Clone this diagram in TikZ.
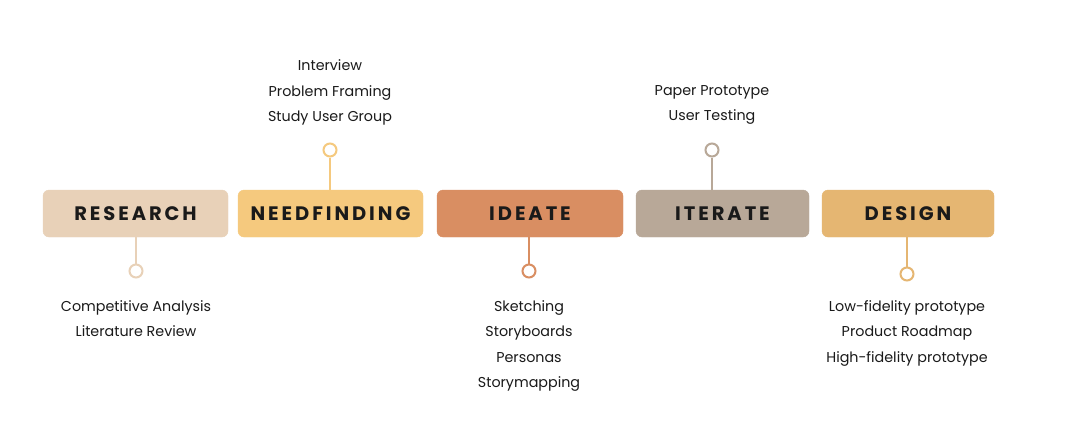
\documentclass[tikz,border=0pt]{standalone}
\usepackage{fontspec}
\setmainfont{Poppins}
\newfontfamily\titlefont{Poppins}[LetterSpace=15]
\definecolor{cResearch}{HTML}{E8D1B8}
\definecolor{cNeed}{HTML}{F5C97E}
\definecolor{cIdeate}{HTML}{D98E62}
\definecolor{cIterate}{HTML}{B8A898}
\definecolor{cDesign}{HTML}{E5B672}
\definecolor{ink}{HTML}{1A1A1A}
\begin{document}
\begin{tikzpicture}[x=1pt,y=-1pt,
  stagebox/.style={fill=#1, draw=#1, rounded corners=6pt, minimum height=47pt,
    inner sep=0pt, text=ink, font=\titlefont\bfseries\fontsize{19.5}{22}\selectfont},
  pin/.style={circle, draw=#1, line width=2pt, fill=white, minimum size=13pt, inner sep=0pt},
  stem/.style={draw=#1, line width=2pt},
  items/.style={align=center, text=ink, inner sep=0pt,
    font=\fontsize{14.3}{25.5}\selectfont}]
\useasboundingbox[fill=white] (0,0) rectangle (1070,432);

% stage boxes
\node[stagebox=cResearch, minimum width=185pt] (research) at (135.5,213.5) {RESEARCH};
\node[stagebox=cNeed, minimum width=185pt] (need) at (330.5,213.5) {NEEDFINDING};
\node[stagebox=cIdeate, minimum width=186pt] (ideate) at (530,213.5) {IDEATE};
\node[stagebox=cIterate, minimum width=173pt] (iterate) at (722.5,213.5) {ITERATE};
\node[stagebox=cDesign, minimum width=172pt] (design) at (908,213.5) {DESIGN};

% pins
\node[pin=cResearch] (pResearch) at (136,271) {};
\node[pin=cNeed] (pNeed) at (330,150) {};
\node[pin=cIdeate] (pIdeate) at (529,271) {};
\node[pin=cIterate] (pIterate) at (712,150) {};
\node[pin=cDesign] (pDesign) at (907,274) {};

\draw[stem=cResearch] (pResearch.north) -- (pResearch |- research.south);
\draw[stem=cNeed] (pNeed.south) -- (pNeed |- need.north);
\draw[stem=cIdeate] (pIdeate.north) -- (pIdeate |- ideate.south);
\draw[stem=cIterate] (pIterate.south) -- (pIterate |- iterate.north);
\draw[stem=cDesign] (pDesign.north) -- (pDesign |- design.south);

% activity lists
\node[items] (tNeed) at (330,92.5) {Interview\\Problem Framing\\Study User Group};
\node[items] (tIterate) at (712,105) {Paper Prototype\\User Testing};
\node[items] (tResearch) at (136,318.5) {Competitive Analysis\\Literature Review};
\node[items] (tIdeate) at (529,346) {Sketching\\Storyboards\\Personas\\Storymapping};
\node[items] (tDesign) at (907,333) {Low-fidelity prototype\\Product Roadmap\\High-fidelity prototype};
\end{tikzpicture}
\end{document}
